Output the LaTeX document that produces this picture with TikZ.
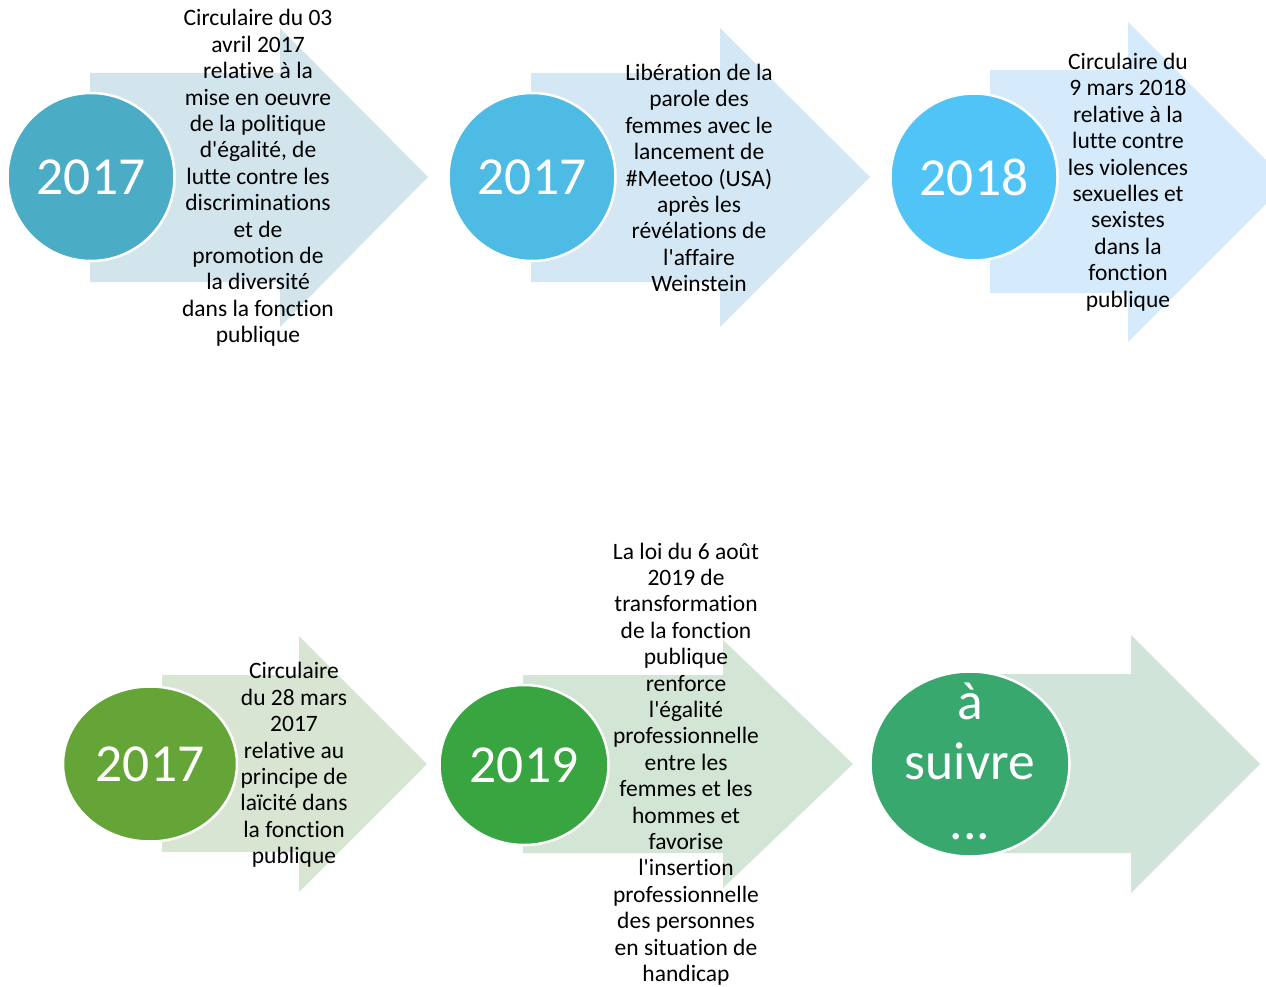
\documentclass[tikz,border=0pt]{standalone}
\usepackage{fontspec}
\setmainfont{Carlito}[Ligatures={NoCommon}]
\usetikzlibrary{shapes.geometric}
\definecolor{cA}{HTML}{4BACC6}\definecolor{aA}{HTML}{D2E5EC}
\definecolor{cB}{HTML}{4DBBE3}\definecolor{aB}{HTML}{D3E8F4}
\definecolor{cC}{HTML}{51C4F7}\definecolor{aC}{HTML}{D5EAFB}
\definecolor{cD}{HTML}{65A538}\definecolor{aD}{HTML}{D9E5D3}
\definecolor{cE}{HTML}{39A540}\definecolor{aE}{HTML}{D3E5D5}
\definecolor{cF}{HTML}{39A86F}\definecolor{aF}{HTML}{D0E4D9}
\tikzset{
  yearcircle/.style={ellipse, draw=white, line width=2.5pt, inner sep=0pt},
  yeartext/.style={text=white, inner sep=0pt, font=\fontsize{53.5}{60}\selectfont, align=center},
  desc/.style={align=center, inner sep=0pt, text=black, font=\fontsize{23.5}{26.4}\selectfont},
}
\newcommand{\q}{\textquotesingle}
\begin{document}
\begin{tikzpicture}[x=1pt,y=-1pt]
\useasboundingbox (0,0) rectangle (1266,987);
\clip (0,0) rectangle (1266,987);
% arrows
\fill[aA] (90,73) -- (280,73) -- (280,28) -- (428,177) -- (280,327) -- (280,282) -- (90,282) -- cycle;
\fill[aB] (531,73) -- (720,73) -- (720,28) -- (870,177) -- (720,327) -- (720,282) -- (531,282) -- cycle;
\fill[aC] (990,70) -- (1128,70) -- (1128,22) -- (1288,182) -- (1128,342) -- (1128,293) -- (990,293) -- cycle;
\fill[aD] (162,675) -- (299,675) -- (299,636) -- (427,764) -- (299,892) -- (299,852) -- (162,852) -- cycle;
\fill[aE] (523,675) -- (723,675) -- (723,640) -- (853,764) -- (723,888) -- (723,853) -- (523,853) -- cycle;
\fill[aF] (970,674) -- (1131,674) -- (1131,635) -- (1260,764) -- (1131,893) -- (1131,853) -- (970,853) -- cycle;
% circles
\node[yearcircle, fill=cA, minimum width=167pt, minimum height=168pt] (y1) at (91,177) {};
\node[yearcircle, fill=cB, minimum width=167pt, minimum height=168pt] (y2) at (532,177) {};
\node[yearcircle, fill=cC, minimum width=167pt, minimum height=167pt] (y3) at (974,177) {};
\node[yearcircle, fill=cD, minimum width=174pt, minimum height=155pt] (y4) at (150,764) {};
\node[yearcircle, fill=cE, minimum width=169pt, minimum height=160pt] (y5) at (524,765) {};
\node[yearcircle, fill=cF, minimum width=199pt, minimum height=185pt] (y6) at (970,764) {};
\node[yeartext] (l1) at (y1) {2017};
\node[yeartext] (l2) at (y2) {2017};
\node[yeartext] (l3) at (y3) {2018};
\node[yeartext] (l4) at (y4) {2017};
\node[yeartext] (l5) at (y5) {2019};
\node[yeartext] (l6) at ([yshift=3pt]y6.center) {à\\suivre\\...};
% texts
\node[desc] (t1) at (258,178) {Circulaire du 03\\avril 2017\\relative à la\\mise en oeuvre\\de la politique\\d\q égalité, de\\lutte contre les\\discriminations\\et de\\promotion de\\la diversité\\dans la fonction\\publique};
\node[desc] (t2) at (699,178) {Libération de la\\parole des\\femmes avec le\\lancement de\\\#Meetoo (USA)\\après les\\révélations de\\l\q affaire\\Weinstein};
\node[desc] (t3) at (1128,182) {Circulaire du\\9 mars 2018\\relative à la\\lutte contre\\les violences\\sexuelles et\\sexistes\\dans la\\fonction\\publique};
\node[desc] (t4) at (294,765) {Circulaire\\du 28 mars\\2017\\relative au\\principe de\\laïcité dans\\la fonction\\publique};
\node[desc] (t5) at (686,764) {La loi du 6 août\\2019 de\\transformation\\de la fonction\\publique\\renforce\\l\q égalité\\professionnelle\\entre les\\femmes et les\\hommes et\\favorise\\l\q insertion\\professionnelle\\des personnes\\en situation de\\handicap};
\end{tikzpicture}
\end{document}
